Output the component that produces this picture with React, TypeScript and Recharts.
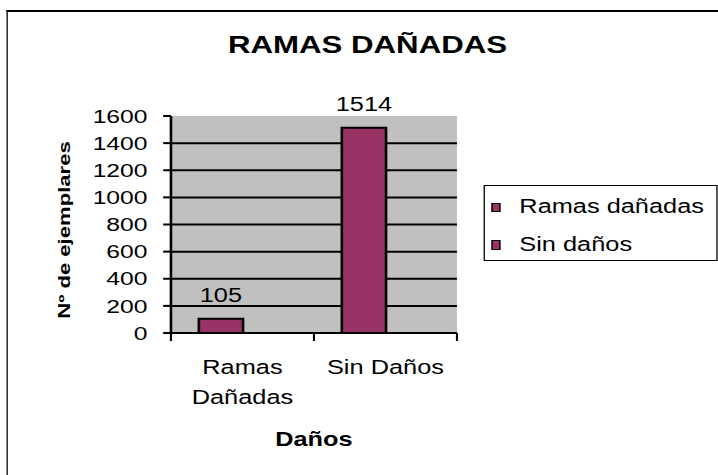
import {
  BarChart,
  Bar,
  XAxis,
  YAxis,
  CartesianGrid,
  Legend,
  LabelList,
  Text,
} from "recharts";

const categories = ["Ramas Dañadas", "Sin Daños"];
const ramasDanadas = [105, 1514];
const sinDanos: (number | null)[] = [null, null];
const seriesNames = ["Ramas dañadas", "Sin daños"];
const yTicks = [0, 200, 400, 600, 800, 1000, 1200, 1400, 1600];
const gridValues = yTicks.slice(1, -1);

const data = categories.map((name, i) => ({
  name,
  ramas: ramasDanadas[i],
  sin: sinDanos[i],
}));

const FONT = '"Liberation Sans", Arial, Helvetica, sans-serif';
const BAR = "#993366";
// the original picture is stretched sideways, so the chart is drawn narrow and widened
const SX = 1.3;
const W = 552;
const H = 475;
const MARGIN = { top: 116, right: 200.5, bottom: 22, left: 0 };
const Y_AXIS_W = 131.5;
const TICK_GAP = 27;

// category label plus the excel-style tick marks between categories
const CatTick = (props: any) => {
  const { x, y, payload, index, visibleTicksCount } = props;
  const plotW = props.width || W - MARGIN.left - MARGIN.right - Y_AXIS_W;
  const band = plotW / (visibleTicksCount || categories.length);
  const top = y - TICK_GAP;
  const last = index === (visibleTicksCount || categories.length) - 1;
  return (
    <g>
      <line x1={x - band / 2} x2={x - band / 2} y1={top} y2={top + 8} stroke="#000" strokeWidth={1.6} />
      {last && (
        <line x1={x + band / 2} x2={x + band / 2} y1={top} y2={top + 8} stroke="#000" strokeWidth={1.6} />
      )}
      <Text
        x={x}
        y={y}
        width={105}
        textAnchor="middle"
        verticalAnchor="start"
        lineHeight={30}
        fontSize={19.5}
        fontFamily={FONT}
        fill="#000"
        style={{ fontSize: 19.5, fontFamily: FONT }}
      >
        {payload.value}
      </Text>
    </g>
  );
};

const LegendBox = (props: any) => {
  const items = props.payload || [];
  return (
    <div
      style={{
        position: "relative",
        boxSizing: "border-box",
        width: 180,
        height: 76,
        border: "1.5px solid #000",
        background: "#fff",
        fontFamily: FONT,
      }}
    >
      {items.map((item: any, i: number) => (
        <div
          key={item.value}
          style={{
            position: "absolute",
            left: 5.5,
            top: 11 + i * 37.7,
            whiteSpace: "nowrap",
            fontSize: 19.5,
            lineHeight: "19.5px",
            color: "#000",
          }}
        >
          <span
            style={{
              display: "inline-block",
              boxSizing: "border-box",
              width: 6.8,
              height: 9.5,
              background: item.color,
              border: "1.2px solid #000",
              marginRight: 14.7,
              verticalAlign: "1px",
            }}
          />
          {item.value}
        </div>
      ))}
    </div>
  );
};

export default function App() {
  return (
    <div
      style={{
        position: "absolute",
        left: 0,
        top: 0,
        width: 718,
        height: H,
        overflow: "hidden",
        background: "#fff",
        fontFamily: FONT,
      }}
    >
      <div
        style={{
          position: "absolute",
          left: 0,
          top: 0,
          width: W,
          height: H,
          transform: `scaleX(${SX})`,
          transformOrigin: "0 0",
        }}
      >
        <div
          style={{
            position: "absolute",
            left: 5.4,
            top: 10.3,
            width: 800,
            height: 800,
            borderLeft: "1.7px solid #000",
            borderTop: "2px solid #000",
          }}
        />
        <div
          style={{
            position: "absolute",
            left: 0,
            top: 33,
            width: 565.4,
            textAlign: "center",
            fontSize: 24,
            lineHeight: "24px",
            fontWeight: "bold",
            color: "#000",
          }}
        >
          RAMAS DAÑADAS
        </div>
        <BarChart
          width={W}
          height={H}
          data={data}
          margin={MARGIN}
          barCategoryGap="19.5%"
          barGap={0}
        >
          <CartesianGrid
            vertical={false}
            horizontalValues={gridValues}
            stroke="#000"
            strokeWidth={2}
            fill="#C0C0C0"
            fillOpacity={1}
          />
          <XAxis
            dataKey="name"
            height={120}
            tickLine={false}
            axisLine={{ stroke: "#000", strokeWidth: 2 }}
            tickSize={0}
            tickMargin={TICK_GAP}
            interval={0}
            tick={<CatTick />}
            label={{
              value: "Daños",
              position: "insideBottom",
              offset: 7,
              fontSize: 19.5,
              fontWeight: "bold",
              fill: "#000",
              fontFamily: FONT,
            }}
          />
          <XAxis
            xAxisId="top"
            orientation="top"
            type="number"
            domain={[0, 2]}
            allowDataOverflow
            height={0}
            tick={false}
            tickLine={false}
            axisLine={{ stroke: "#808080", strokeWidth: 2 }}
          />
          <YAxis
            width={Y_AXIS_W}
            domain={[0, 1600]}
            ticks={yTicks}
            interval={0}
            tickSize={6}
            tickMargin={12}
            tick={{ fontSize: 19, fill: "#000", fontFamily: FONT }}
            tickLine={{ stroke: "#000", strokeWidth: 2 }}
            axisLine={{ stroke: "#000", strokeWidth: 2 }}
          />
          <YAxis
            yAxisId="right"
            orientation="right"
            domain={[0, 1600]}
            width={0}
            tick={false}
            tickLine={false}
            axisLine={{ stroke: "#808080", strokeWidth: 1.5 }}
          />
          <Legend
            layout="vertical"
            align="center"
            verticalAlign="middle"
            content={<LegendBox />}
            wrapperStyle={{ left: 371.5, top: 185, width: 180, height: 76 }}
          />
          <Bar
            dataKey="ramas"
            name={seriesNames[0]}
            fill={BAR}
            stroke="#000"
            strokeWidth={2}
            isAnimationActive={false}
          >
            <LabelList
              dataKey="ramas"
              position="top"
              offset={17}
              fontSize={19.5}
              fill="#000"
              fontFamily={FONT}
            />
          </Bar>
          <Bar
            dataKey="sin"
            name={seriesNames[1]}
            fill={BAR}
            stroke="#000"
            strokeWidth={2}
            isAnimationActive={false}
          />
        </BarChart>
      </div>
      <div
        style={{
          position: "absolute",
          left: 64.7,
          top: 230,
          transform: "translate(-50%, -50%) rotate(-90deg) scaleX(1.38)",
          whiteSpace: "nowrap",
          fontSize: 16,
          lineHeight: "16px",
          fontWeight: "bold",
          color: "#000",
        }}
      >
        Nº de ejemplares
      </div>
    </div>
  );
}
